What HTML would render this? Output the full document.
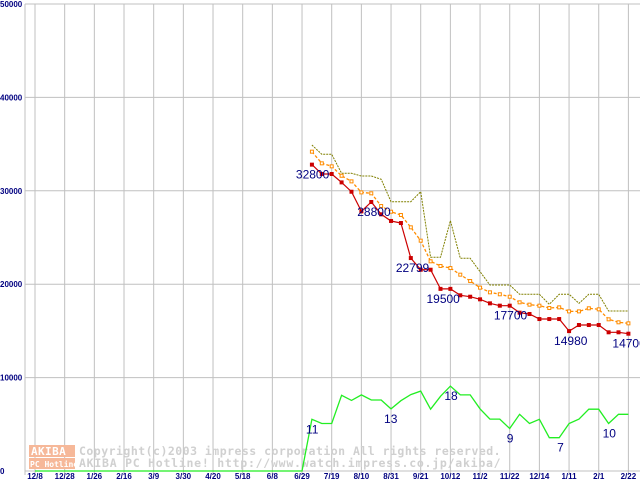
<!DOCTYPE html>
<html><head><meta charset="utf-8"><style>
body{margin:0;background:#fff;}
svg{display:block;font-family:"Liberation Sans","DejaVu Sans",sans-serif;}
</style></head><body>
<svg id="chart" width="640" height="480" viewBox="0 0 640 480" xmlns="http://www.w3.org/2000/svg">
<g id="grid"></g>
<g id="watermark" font-family="'DejaVu Sans Mono','Liberation Mono',monospace" font-size="11.5" font-weight="bold" fill="#d0d0d0" letter-spacing="0.4">
<rect x="29" y="445" width="46" height="12" fill="#f6b899"/>
<rect x="29" y="458" width="46" height="11" fill="#f6b899"/>
<text x="31" y="455" fill="#fff" font-size="11">AKIBA</text>
<text x="30" y="467" fill="#fff" font-size="8" letter-spacing="0">PC Hotline!</text>
<text x="79" y="455" textLength="422">Copyright(c)2003 impress corporation All rights reserved.</text>
<text x="79" y="467" textLength="422">AKIBA PC Hotline!  http://www.watch.impress.co.jp/akiba/</text>
</g>
<g id="series"></g>
<g id="labels"></g>
</svg>
<script>
const xLabels=["12/8","12/28","1/26","2/16","3/9","3/30","4/20","5/18","6/8","6/29","7/19","8/10","8/31","9/21","10/12","11/2","11/22","12/14","1/11","2/1","2/22"];
const yTicks=[0,10000,20000,30000,40000,50000];
const minPrice=[32800,31800,31800,30900,29900,27800,28800,27480,26770,26550,22799,21550,21550,19500,19500,18810,18660,18380,17950,17700,17700,16950,16810,16270,16270,16270,14980,15630,15630,15630,14850,14850,14700];
const avgPrice=[34190,32940,32620,31610,31010,29830,29730,28370,27760,27410,26090,24660,22450,21950,21730,21020,20340,19630,19130,18920,18660,18060,17810,17700,17450,17520,17090,17090,17420,17310,16240,15920,15810];
const maxPrice=[34900,33910,33910,31870,31870,31580,31580,31230,28830,28830,28830,29900,22880,22880,26800,22770,22770,21340,19910,19910,19910,18920,18920,18920,17850,18920,18920,17950,18920,18920,17130,17130,17130];
const shops=[5530,5090,5090,8110,7560,8150,7600,7600,6650,7530,8180,8550,6620,8000,9090,8150,8150,6650,5560,5560,4550,6070,5090,5530,3560,3560,5090,5560,6620,6620,5090,6070,6070];
const priceNotes=[[0,"32800",-16,14],[6,"28800",-14,14],[10,"22799",-15,14],[13,"19500",-14,14],[19,"17700",-6,14],[26,"14980",-15,14],[32,"14700",-16,14]];
const shopNotes=[[0,"11",-6,14],[8,"13",-7,14],[14,"18",-6,14],[20,"9",-3,14],[25,"7",-2,14],[30,"10",-6,14]];

const NS="http://www.w3.org/2000/svg";
const yS=v=>471-v*467/50000;
const gx=i=>35+i*29.67;
const px=i=>gx(9)+(i+1)*(gx(20)-gx(9))/33;
function mk(tag,attrs,parent){const e=document.createElementNS(NS,tag);for(const k in attrs)e.setAttribute(k,attrs[k]);parent.appendChild(e);return e;}
const grid=document.getElementById('grid'),ser=document.getElementById('series'),lab=document.getElementById('labels');
yTicks.forEach(v=>{
 const l=mk('line',{x1:25,x2:640,y1:yS(v),y2:yS(v),stroke:'#c0c0c0','stroke-width':1},grid);
 
 
 const t=mk('text',{x:0,y:yS(v)+3,'font-size':8,'font-weight':'bold',fill:'#000080'},grid);
 t.textContent=String(v);
 
 
});
xLabels.forEach((s,i)=>{
 const l=mk('line',{x1:gx(i),x2:gx(i),y1:4,y2:475,stroke:'#c0c0c0','stroke-width':1},grid);
 
 
 const t=mk('text',{x:gx(i),y:479,'font-size':8,'font-weight':'bold',fill:'#000080','text-anchor':'middle'},grid);
 t.textContent=s;
 
 
});
const ax=mk('line',{x1:25,x2:25,y1:4,y2:475,stroke:'#c0c0c0'},grid);


function pts(arr){return arr.map((v,i)=>px(i).toFixed(1)+','+yS(v).toFixed(1)).join(' ');}
const gpts=gx(0)+','+yS(0)+' '+gx(9)+','+yS(0)+' '+pts(shops);
const g=mk('polyline',{points:gpts,fill:'none',stroke:'#22ee22','stroke-width':1.3},ser);


const mx=mk('polyline',{points:pts(maxPrice),fill:'none',stroke:'#808000','stroke-width':1,'stroke-dasharray':'2,1'},ser);


const av=mk('polyline',{points:pts(avgPrice),fill:'none',stroke:'#ff8c00','stroke-width':1.3,'stroke-dasharray':'3,2'},ser);


avgPrice.forEach((v,i)=>{
 const r=mk('rect',{x:px(i)-1.5,y:yS(v)-1.5,width:3,height:3,fill:'#fff',stroke:'#ff8c00','stroke-width':1},ser);
 
 
});
const mn=mk('polyline',{points:pts(minPrice),fill:'none',stroke:'#cc0000','stroke-width':1.2},ser);


minPrice.forEach((v,i)=>{
 const r=mk('rect',{x:px(i)-2,y:yS(v)-2,width:4,height:4,fill:'#cc0000'},ser);
 
 
});
priceNotes.forEach(([i,s,dx,dy])=>{
 const t=mk('text',{x:px(i)+dx,y:yS(minPrice[i])+dy,'font-size':12,fill:'#000080'},lab);
 t.textContent=s;
 
 
});
shopNotes.forEach(([i,s,dx,dy])=>{
 const t=mk('text',{x:px(i)+dx,y:yS(shops[i])+dy,'font-size':12,fill:'#000080'},lab);
 t.textContent=s;
 
 
});
</script>
</body></html>
